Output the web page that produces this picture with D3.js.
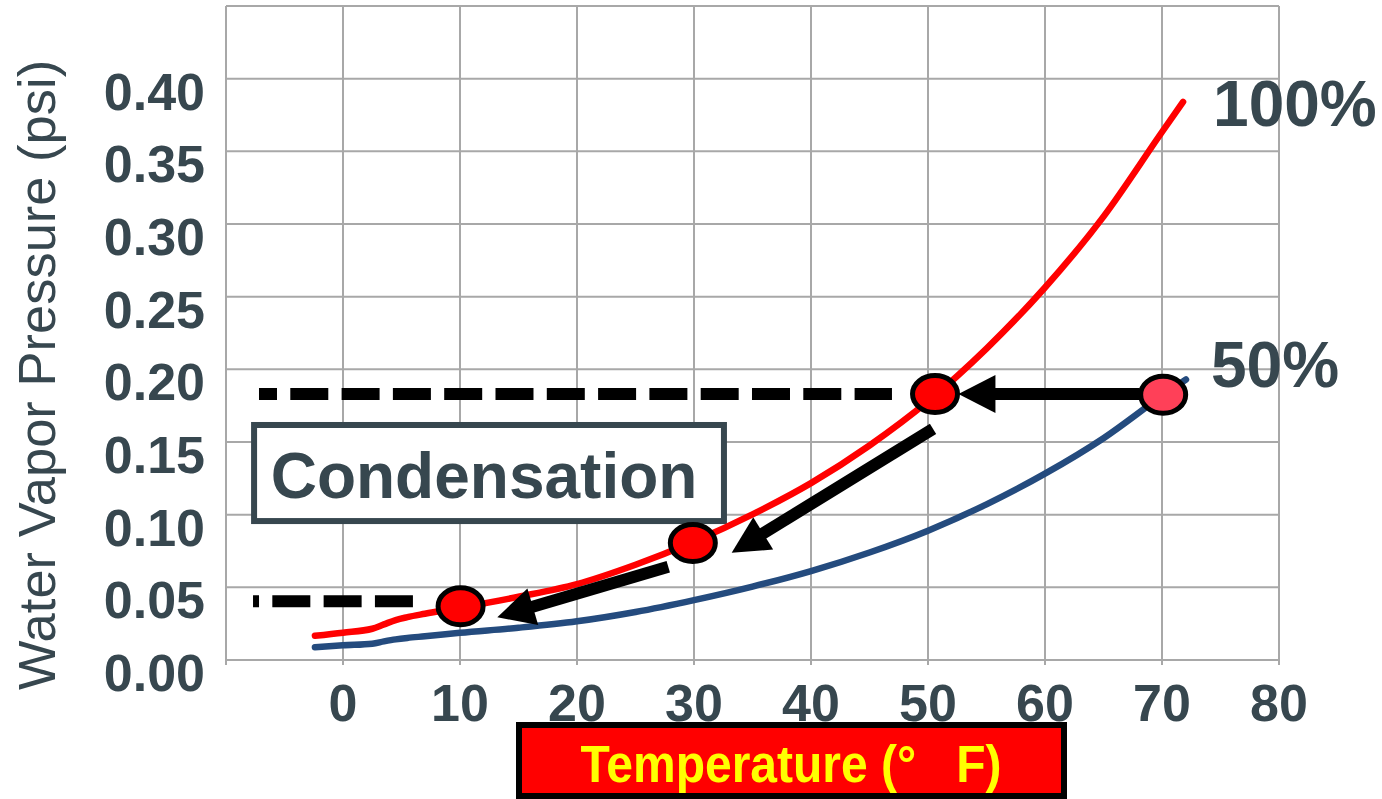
<!DOCTYPE html>
<html>
<head>
<meta charset="utf-8">
<script src="https://cdn.jsdelivr.net/npm/d3@7/dist/d3.min.js"></script>
<style>
  html, body { margin: 0; padding: 0; background: #fff; }
  svg { display: block; }
  text { font-family: 'Liberation Sans', Arial, sans-serif; }
</style>
</head>
<body>
<svg id="chart" width="1382" height="799"></svg>
<script>
// ---- data ----
const temps100 = [-2.4, 0, 2.5, 3.5, 4.5, 5.5, 7, 10, 15, 20, 25, 30, 35, 40, 45, 50, 55, 60, 65, 70, 71.8];
const pres100  = [0.0167, 0.0188, 0.0215, 0.0245, 0.0275, 0.0295, 0.0318, 0.0360, 0.0435, 0.0522, 0.0655, 0.0815, 0.1002, 0.1217, 0.1476, 0.1780, 0.2143, 0.2563, 0.3051, 0.3633, 0.3840];
const temps50  = [-2.4, 0, 2.5, 3.5, 4.5, 5.5, 7, 10, 15, 20, 25, 30, 35, 40, 45, 50, 55, 60, 65, 70, 72.05];
const pres50   = [0.0087, 0.0101, 0.0112, 0.0128, 0.0142, 0.0152, 0.0163, 0.0187, 0.0222, 0.0266, 0.0330, 0.0412, 0.0505, 0.0612, 0.0740, 0.0890, 0.1071, 0.1282, 0.1526, 0.1817, 0.1930];

const xTicks = [0, 10, 20, 30, 40, 50, 60, 70, 80];
const xGrid  = [-10, 0, 10, 20, 30, 40, 50, 60, 70, 80];
const yTicks = [0, 0.05, 0.10, 0.15, 0.20, 0.25, 0.30, 0.35, 0.40];
const yGrid  = [0, 0.05, 0.10, 0.15, 0.20, 0.25, 0.30, 0.35, 0.40, 0.45];

const pointT = [50.6, 70.1, 29.9, 10.05];
const pointP = [0.183, 0.1825, 0.0805, 0.037];
const pointFill = ['#ff0000', '#ff4058', '#ff0000', '#ff0000'];

// arrows: [startT, startP, tipT, tipP]
const arrows = [
  [68.1, 0.183, 52.6, 0.183],
  [50.43, 0.159, 33.22, 0.0738],
  [27.8, 0.0642, 13.19, 0.0294]
];
// dashed reference lines: [fromT, toT, P]
const dashes = [
  [-7.18, 46.92, 0.183],
  [-7.69, 6.03, 0.0405]
];

const yTitle = 'Water Vapor Pressure (psi)';
const xTitle = 'Temperature (°   F)';
const label100 = '100%';
const label50 = '50%';
const boxText = 'Condensation';

// ---- drawing ----
const ink = '#37474f';
const svg = d3.select('#chart');
const x = d3.scaleLinear().domain([-10, 80]).range([226, 1279]);
const y = d3.scaleLinear().domain([0, 0.45]).range([660, 6]);

// grid
const g = svg.append('g');
g.selectAll('line.h').data(yGrid).enter().append('line')
  .attr('x1', x(-10)).attr('x2', x(80))
  .attr('y1', d => y(d)).attr('y2', d => y(d))
  .attr('stroke', '#a8a8a8').attr('stroke-width', 2);
g.selectAll('line.v').data(xGrid).enter().append('line')
  .attr('x1', d => x(d)).attr('x2', d => x(d))
  .attr('y1', y(0.45)).attr('y2', y(0) + 5)
  .attr('stroke', '#a8a8a8').attr('stroke-width', 2);

// y tick labels
svg.selectAll('text.yt').data(yTicks).enter().append('text')
  .attr('x', 205).attr('y', d => y(d) + 31)
  .attr('text-anchor', 'end')
  .attr('font-size', 52).attr('font-weight', 'bold').attr('fill', ink)
  .text(d => d3.format('.2f')(d));

// x tick labels
svg.selectAll('text.xt').data(xTicks).enter().append('text')
  .attr('x', d => x(d)).attr('y', 721)
  .attr('text-anchor', 'middle')
  .attr('font-size', 52).attr('font-weight', 'bold').attr('fill', ink)
  .text(d => d);

// y title
svg.append('text')
  .attr('transform', 'translate(55,690) rotate(-90)')
  .attr('font-size', 52.5).attr('fill', ink)
  .text(yTitle);

// condensation box
svg.append('rect')
  .attr('x', x(-7.6)).attr('y', y(0.1617))
  .attr('width', x(32.56) - x(-7.6)).attr('height', y(0.0956) - y(0.1617))
  .attr('fill', '#fff').attr('stroke', ink).attr('stroke-width', 6);
svg.append('text')
  .attr('x', (x(-7.6) + x(32.56)) / 2 - 5).attr('y', y(0.1617) + 73)
  .attr('text-anchor', 'middle')
  .attr('font-size', 64).attr('font-weight', 'bold').attr('fill', ink)
  .text(boxText);

// curves
const line = d3.line().x(d => x(d[0])).y(d => y(d[1])).curve(d3.curveMonotoneX);
svg.append('path').datum(temps50.map((t, i) => [t, pres50[i]]))
  .attr('d', line).attr('fill', 'none').attr('stroke', '#244b7e')
  .attr('stroke-width', 6.5).attr('stroke-linecap', 'round');
svg.append('path').datum(temps100.map((t, i) => [t, pres100[i]]))
  .attr('d', line).attr('fill', 'none').attr('stroke', '#ff0000')
  .attr('stroke-width', 6.5).attr('stroke-linecap', 'round');

// curve labels
svg.append('text')
  .attr('x', x(temps100[temps100.length - 1]) + 30)
  .attr('y', y(pres100[pres100.length - 1]) + 24)
  .attr('font-size', 64).attr('font-weight', 'bold').attr('fill', ink)
  .text(label100);
svg.append('text')
  .attr('x', x(temps50[temps50.length - 1]) + 25)
  .attr('y', y(pres50[pres50.length - 1]) + 7)
  .attr('font-size', 64).attr('font-weight', 'bold').attr('fill', ink)
  .text(label50);

// dashed lines
const dashOffsets = [20, 32];
svg.selectAll('line.dash').data(dashes).enter().append('line')
  .attr('x1', d => x(d[0])).attr('x2', d => x(d[1]))
  .attr('y1', d => y(d[2])).attr('y2', d => y(d[2]))
  .attr('stroke', '#000').attr('stroke-width', 12)
  .attr('stroke-dasharray', '38 13.3')
  .attr('stroke-dashoffset', (d, i) => dashOffsets[i]);

// arrows
const headLen = 37, headHalf = 19;
arrows.forEach(a => {
  const x0 = x(a[0]), y0 = y(a[1]), x1 = x(a[2]), y1 = y(a[3]);
  const dx = x1 - x0, dy = y1 - y0, L = Math.hypot(dx, dy);
  const ux = dx / L, uy = dy / L;
  const bx = x1 - ux * headLen, by = y1 - uy * headLen;
  svg.append('line')
    .attr('x1', x0).attr('y1', y0).attr('x2', bx + ux * 2).attr('y2', by + uy * 2)
    .attr('stroke', '#000').attr('stroke-width', 12);
  svg.append('polygon')
    .attr('points', [
      [x1, y1],
      [bx - uy * headHalf, by + ux * headHalf],
      [bx + uy * headHalf, by - ux * headHalf]
    ].map(p => p.join(',')).join(' '))
    .attr('fill', '#000');
});

// points
svg.selectAll('ellipse.pt').data(pointT).enter().append('ellipse')
  .attr('cx', d => x(d)).attr('cy', (d, i) => y(pointP[i]))
  .attr('rx', 22.5).attr('ry', 18.5)
  .attr('fill', (d, i) => pointFill[i])
  .attr('stroke', '#000').attr('stroke-width', 5);

// x title box
svg.append('rect')
  .attr('x', 519).attr('y', 725).attr('width', 545).attr('height', 71)
  .attr('fill', '#ff0000').attr('stroke', '#000').attr('stroke-width', 6);
svg.append('text')
  .attr('transform', 'translate(791,782) scale(1,1.08)')
  .attr('text-anchor', 'middle')
  .style('white-space', 'pre')
  .attr('font-size', 48).attr('font-weight', 'bold').attr('fill', '#ffff00')
  .text(xTitle);
</script>
</body>
</html>
